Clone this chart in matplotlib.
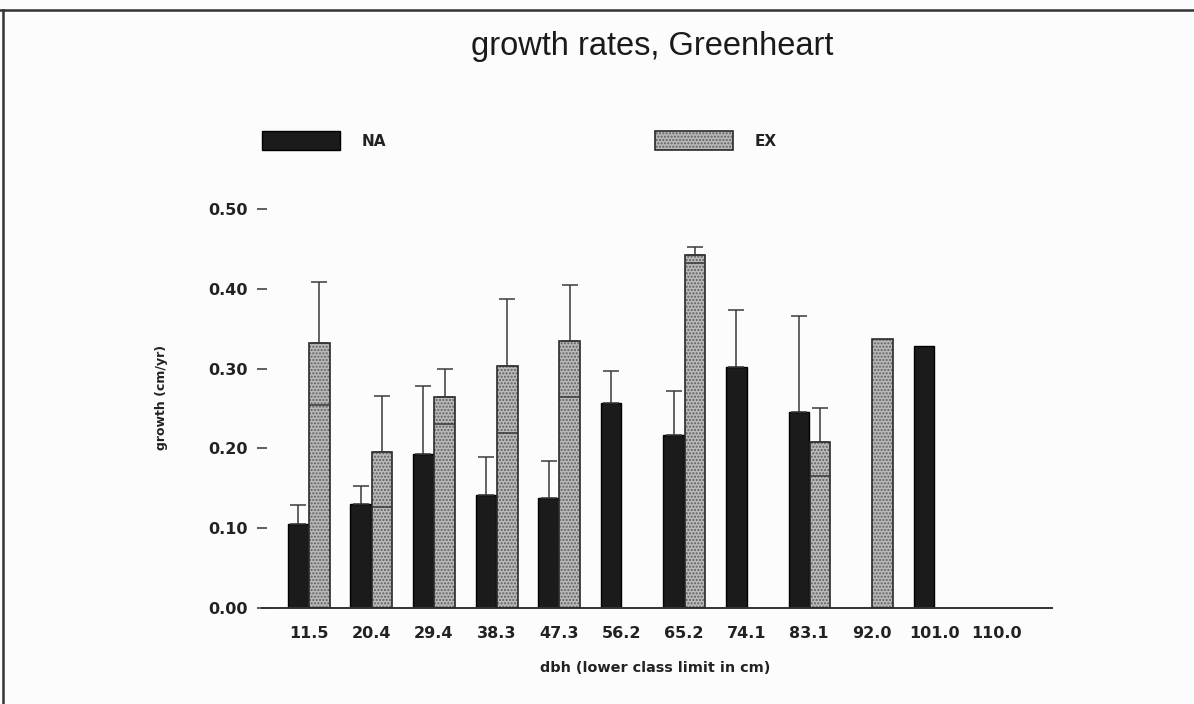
import numpy as np
import matplotlib
matplotlib.use("Agg")
import matplotlib.pyplot as plt
from matplotlib.lines import Line2D
from matplotlib.patches import Rectangle

# ---- data ----
classes = ["11.5", "20.4", "29.4", "38.3", "47.3", "56.2",
           "65.2", "74.1", "83.1", "92.0", "101.0", "110.0"]
na_vals = [0.105, 0.130, 0.193, 0.142, 0.138, 0.257,
           0.217, 0.302, 0.246, np.nan, 0.328, np.nan]
na_err = [0.024, 0.023, 0.085, 0.047, 0.046, 0.040,
          0.055, 0.071, 0.120, np.nan, 0.0, np.nan]
ex_vals = [0.332, 0.196, 0.265, 0.303, 0.335, np.nan,
           0.442, np.nan, 0.208, 0.337, np.nan, np.nan]
ex_err = [0.077, 0.070, 0.035, 0.084, 0.070, np.nan,
          0.010, np.nan, 0.043, 0.0, np.nan, np.nan]
yticks = [0.0, 0.1, 0.2, 0.3, 0.4, 0.5]
series_names = ["NA", "EX"]

title = "growth rates, Greenheart"
xlabel = "dbh (lower class limit in cm)"
ylabel = "growth (cm/yr)"

# ---- styling ----
plt.rcParams["hatch.linewidth"] = 1.0
W, H = 1194, 704
fig = plt.figure(figsize=(W / 100, H / 100), dpi=100)
fig.patch.set_facecolor("#fcfcfc")

ax = fig.add_axes([262 / W, 1 - 608 / H, 790 / W, 399 / H])
ax.set_facecolor("none")

x = np.arange(len(classes))
na_v = np.array(na_vals, float)
na_e = np.array(na_err, float)
ex_v = np.array(ex_vals, float)
ex_e = np.array(ex_err, float)

bw = 0.33
off_na, off_ex = -0.165, 0.175
na_col = "#1b1b1b"
ex_face = "#b9b9b9"
ex_hatch = "#5e5e5e"
ex_pattern = "....."

m_na = ~np.isnan(na_v)
m_ex = ~np.isnan(ex_v)

ax.bar(x[m_na] + off_na, na_v[m_na], width=bw, color=na_col,
       edgecolor="#000000", linewidth=1.0, zorder=2)
ax.bar(x[m_ex] + off_ex, ex_v[m_ex], width=bw, facecolor=ex_face,
       hatch=ex_pattern, edgecolor=ex_hatch, linewidth=0, zorder=2)
ax.bar(x[m_ex] + off_ex, ex_v[m_ex], width=bw, fill=False,
       edgecolor="#2a2a2a", linewidth=1.2, zorder=3)

# error bars (upper whisker with cap)
err_col = "#3a3a3a"
me_na = m_na & (np.nan_to_num(na_e) > 0)
me_ex = m_ex & (np.nan_to_num(ex_e) > 0)
ax.errorbar(x[me_na] + off_na, na_v[me_na],
            yerr=[np.zeros(me_na.sum()), na_e[me_na]],
            fmt="none", ecolor=err_col, elinewidth=1.1, capsize=5.5,
            capthick=1.1, zorder=4)
ax.errorbar(x[me_ex] + off_ex, ex_v[me_ex],
            yerr=[np.zeros(me_ex.sum()), ex_e[me_ex]],
            fmt="none", ecolor=err_col, elinewidth=1.1, capsize=5.5,
            capthick=1.1, zorder=4)
# lower limit drawn as line across EX bar
ax.hlines(ex_v[me_ex] - ex_e[me_ex], x[me_ex] + off_ex - bw / 2,
          x[me_ex] + off_ex + bw / 2, colors=err_col, linewidth=1.1, zorder=4)

ax.set_xlim(-0.743, 11.88)
ax.set_ylim(0, 0.5)

for s in ["top", "right", "left"]:
    ax.spines[s].set_visible(False)
ax.spines["bottom"].set_color("#333333")
ax.spines["bottom"].set_linewidth(1.4)

ax.set_xticks(x)
ax.set_xticklabels(classes, fontsize=11.5, fontweight="bold",
                   family="DejaVu Sans", color="#222222")
ax.tick_params(axis="x", length=0, pad=13)
ax.set_yticks(yticks)
ax.set_yticklabels([f"{v:.2f}" for v in yticks], fontsize=11.5,
                   fontweight="bold", family="DejaVu Sans", color="#222222")
ax.tick_params(axis="y", direction="inout", length=7, width=1.2,
               pad=6.5, color="#444444")

fig.text(655 / W, 1 - 668 / H, xlabel, ha="center", va="center",
         fontsize=10.4, fontweight="bold", family="DejaVu Sans",
         color="#222222")
fig.text(162 / W, 1 - 397 / H, ylabel, ha="center", va="center",
         rotation=90, fontsize=9, fontweight="bold", family="DejaVu Sans",
         color="#222222")
fig.text(652 / W, 1 - 46 / H, title, ha="center", va="center",
         fontsize=23.5, family="Liberation Sans", color="#1a1a1a")

# legend (drawn manually to match the layout)
sw_w, sw_h = 78 / W, 19 / H
leg_y = 1 - 150 / H
for xl, face, hatch, name, tx in [(262, na_col, None, series_names[0], 362),
                                  (655, ex_face, ex_pattern, series_names[1], 755)]:
    r = Rectangle((xl / W, leg_y), sw_w, sw_h, transform=fig.transFigure,
                  facecolor=face, hatch=hatch,
                  edgecolor=ex_hatch if hatch else "#000000",
                  linewidth=0 if hatch else 1.0)
    fig.patches.append(r)
    if hatch:
        fig.patches.append(Rectangle((xl / W, leg_y), sw_w, sw_h,
                                     transform=fig.transFigure, fill=False,
                                     edgecolor="#2a2a2a", linewidth=1.2))
    fig.text(tx / W, 1 - 141 / H, name, ha="left", va="center",
             fontsize=11, fontweight="bold", family="DejaVu Sans",
             color="#222222")

# page frame (top and left edges of the scanned box)
fig.add_artist(Line2D([0, 1], [1 - 10 / H, 1 - 10 / H],
                      transform=fig.transFigure, color="#333333", lw=1.8))
fig.add_artist(Line2D([3 / W, 3 / W], [0, 1 - 10 / H],
                      transform=fig.transFigure, color="#333333", lw=1.8))

fig.savefig("out.png", dpi=100, facecolor=fig.get_facecolor())
